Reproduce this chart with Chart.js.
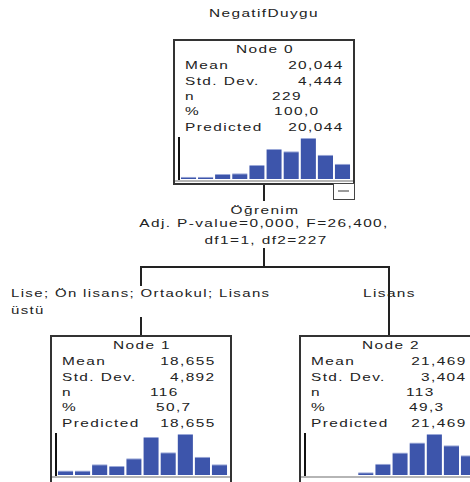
<!DOCTYPE html>
<html>
<head>
<meta charset="utf-8">
<script src="https://cdn.jsdelivr.net/npm/chart.js@4.4.1/dist/chart.umd.min.js"></script>
<style>
  html, body { margin: 0; padding: 0; background: #fff; }
  #stage { position: relative; width: 470px; height: 482px; overflow: hidden; background: #fff; }
  .t { position: absolute; font-family: "Liberation Sans", Arial, sans-serif; font-size: 11px; line-height: 13px;
       color: #222; white-space: pre; letter-spacing: 1px; }
  .ln { position: absolute; background: #222; }
  .box { position: absolute; border: 2px solid #333; box-sizing: border-box; background: #fff; }
  canvas { position: absolute; }
</style>
</head>
<body>
<div id="stage"></div>
<script>
// ---------------- data ----------------
const title = "NegatifDuygu";
const nodeNames = ["Node 0", "Node 1", "Node 2"];
const statLabels = ["Mean", "Std. Dev.", "n", "%", "Predicted"];
const means = ["20,044", "18,655", "21,469"];
const stdDevs = ["4,444", "4,892", "3,404"];
const counts = ["229", "116", "113"];
const percents = ["100,0", "50,7", "49,3"];
const predicted = ["20,044", "18,655", "21,469"];
const binLabels = ["1", "2", "3", "4", "5", "6", "7", "8", "9", "10"];
const histNode0 = [3, 3, 7, 8, 19, 41, 38, 56, 33, 21];
const histNode1 = [3, 3, 7, 6, 11, 25, 15, 27, 12, 7];
const histNode2 = [0, 0, 0, 2, 8, 16, 23, 29, 21, 14];
const splitVariable = "Öğrenim";
const splitStats = ["Adj. P-value=0,000, F=26,400,", "df1=1, df2=227"];
const branchLabels = ["Lise; Ön lisans; Ortaokul; Lisans üstü", "Lisans"];

// ---------------- layout ----------------
const stage = document.getElementById('stage');
const SX = 1.4;
function text(str, x, baseline, align, sx) {
  sx = sx || SX;
  const d = document.createElement('div');
  d.className = 't';
  d.textContent = str;
  d.style.top = (baseline - 10.3) + 'px';
  if (align === 'right') {
    d.style.right = (470 - x - 1.4) + 'px';
    d.style.transformOrigin = 'right center';
    d.style.transform = 'scaleX(' + sx + ')';
  } else if (align === 'center') {
    d.style.left = (x + 0.7) + 'px';
    d.style.transform = 'translateX(-50%) scaleX(' + sx + ')';
  } else {
    d.style.left = x + 'px';
    d.style.transformOrigin = 'left center';
    d.style.transform = 'scaleX(' + sx + ')';
  }
  stage.appendChild(d);
  return d;
}
function line(x1, y1, x2, y2, w, color) {
  const d = document.createElement('div');
  d.className = 'ln';
  w = w || 2;
  if (x1 === x2) {
    d.style.left = (x1 - w / 2) + 'px'; d.style.top = y1 + 'px';
    d.style.width = w + 'px'; d.style.height = (y2 - y1) + 'px';
  } else {
    d.style.left = x1 + 'px'; d.style.top = (y1 - w / 2) + 'px';
    d.style.width = (x2 - x1) + 'px'; d.style.height = w + 'px';
  }
  if (color) d.style.background = color;
  stage.appendChild(d);
}

text(title, 263, 17, 'center');

// connectors
line(264, 183, 264, 201);
line(264, 248, 264, 268);
line(140, 267, 390, 267);
line(141, 267, 141, 286);
line(141, 317, 141, 336);
line(389, 267, 389, 336);

text(splitVariable, 264, 214, 'center');
text(splitStats[0], 263, 227, 'center');
text(splitStats[1], 265, 244, 'center');

const lb = branchLabels[0];
const cut = lb.lastIndexOf(' ');
text(lb.slice(0, cut), 11, 297, 'left', 1.36);
text(lb.slice(cut + 1), 11, 314, 'left', 1.36);
text(branchLabels[1], 363, 297, 'left');

const boxes = [
  { l: 173, t: 39, r: 355, b: 185, vr: 342, nx: 272, px: 274, hist: histNode0 },
  { l: 50, t: 335, r: 232, b: 486, vr: 214, nx: 150, px: 156, hist: histNode1 },
  { l: 299, t: 335, r: 481, b: 486, vr: 465, nx: 406, px: 409, hist: histNode2 }
];
const rowOff = [14, 30, 46, 61.5, 76, 92];

boxes.forEach((bx, i) => {
  const d = document.createElement('div');
  d.className = 'box';
  d.style.left = bx.l + 'px'; d.style.top = bx.t + 'px';
  d.style.width = (bx.r - bx.l) + 'px'; d.style.height = (bx.b - bx.t) + 'px';
  stage.appendChild(d);

  text(nodeNames[i], (bx.l + bx.r) / 2, bx.t + rowOff[0], 'center');
  const lx = bx.l + 11.5;
  text(statLabels[0], lx, bx.t + rowOff[1]); text(means[i], bx.vr, bx.t + rowOff[1], 'right');
  text(statLabels[1], lx, bx.t + rowOff[2]); text(stdDevs[i], bx.vr, bx.t + rowOff[2], 'right');
  text(statLabels[2], lx, bx.t + rowOff[3]); text(counts[i], bx.nx, bx.t + rowOff[3]);
  text(statLabels[3], lx, bx.t + rowOff[4]); text(percents[i], bx.px, bx.t + rowOff[4]);
  text(statLabels[4], lx, bx.t + rowOff[5]); text(predicted[i], bx.vr, bx.t + rowOff[5], 'right');

  // histogram
  const base = bx.t + 140;
  const hx = bx.l + 6.5;
  const cv = document.createElement('canvas');
  cv.width = 171; cv.height = 41;
  cv.style.left = hx + 'px'; cv.style.top = (base - 41) + 'px';
  cv.style.width = '171px'; cv.style.height = '41px';
  stage.appendChild(cv);
  new Chart(cv, {
    type: 'bar',
    data: {
      labels: binLabels,
      datasets: [{
        data: bx.hist,
        backgroundColor: '#3d55ab',
        borderColor: '#9aa8d8',
        borderWidth: { top: 1, left: 0, right: 0, bottom: 0 },
        borderSkipped: 'bottom',
        categoryPercentage: 0.9,
        barPercentage: 1
      }]
    },
    options: {
      responsive: false, animation: false, devicePixelRatio: 1,
      layout: { padding: 0 },
      plugins: { legend: { display: false }, tooltip: { enabled: false } },
      scales: {
        x: { display: false, offset: true },
        y: { display: false, min: 0, max: Math.max(...bx.hist) }
      }
    }
  });
  // axis lines
  line(bx.l + 6, base - 42, bx.l + 6, base + 1, 2, '#111');
  line(bx.l + 2, base + 1.5, bx.r - 2, base + 1.5, 2, '#b5b5b5');
});

// collapse toggle under node 0
const tg = document.createElement('div');
tg.className = 'box';
tg.style.left = '333px'; tg.style.top = '183px'; tg.style.width = '22px'; tg.style.height = '17px';
tg.style.borderColor = '#444'; tg.style.borderWidth = '1.5px';
stage.appendChild(tg);
line(338, 191, 349, 191, 2, '#9a9a9a');
</script>
</body>
</html>
